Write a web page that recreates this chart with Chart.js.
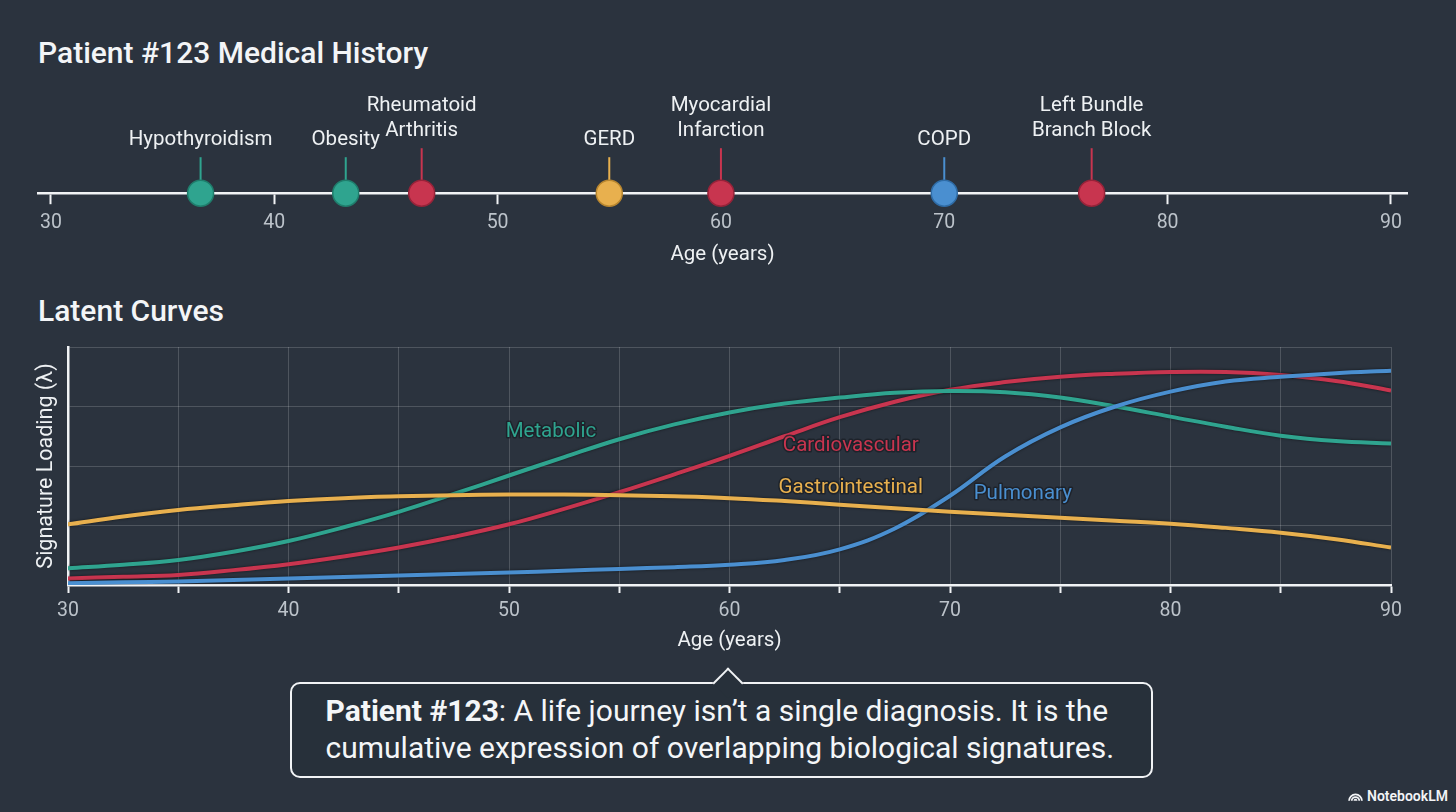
<!DOCTYPE html>
<html>
<head>
<meta charset="utf-8">
<script src="https://cdn.jsdelivr.net/npm/chart.js@4.4.1/dist/chart.umd.min.js"></script>
<style>
  body {
    margin: 0;
    width: 1456px;
    height: 812px;
    overflow: hidden;
    position: relative;
    background: #2b333e;
    font-family: Roboto, "Noto Sans", sans-serif;
    color: #f3f5f7;
  }
  .title {
    position: absolute;
    left: 38px;
    font-size: 30px;
    font-weight: 500;
    line-height: 34px;
  }
  #timelineBox { position: absolute; left: 0; top: 80px; width: 1456px; height: 200px; }
  #curvesBox { position: absolute; left: 0; top: 330px; width: 1456px; height: 330px; }
  .callout {
    position: absolute;
    left: 290px;
    top: 682px;
    width: 863px;
    height: 96px;
    box-sizing: border-box;
    border: 2.5px solid #f1f3f5;
    border-radius: 10px;
    background: #27303a;
    padding: 8px 0 0 33.5px;
    font-size: 30px;
    line-height: 37px;
    color: #f4f6f8;
    white-space: nowrap;
  }
  .callout .tip {
    position: absolute;
    left: 424.5px;
    top: -12.5px;
    width: 22px;
    height: 22px;
    background: #27303a;
    border-top: 2.5px solid #f1f3f5;
    border-left: 2.5px solid #f1f3f5;
    box-sizing: border-box;
    transform: rotate(45deg);
  }
  .watermark {
    position: absolute;
    right: 8px;
    bottom: 8px;
    font-size: 14px;
    font-weight: 600;
    color: #f2f4f6;
    display: flex;
    align-items: center;
    gap: 4px;
  }
</style>
</head>
<body>
<div class="title" style="top:36px">Patient #123 Medical History</div>
<div id="timelineBox"><canvas id="timeline"></canvas></div>
<div class="title" style="top:294px">Latent Curves</div>
<div id="curvesBox"><canvas id="curves"></canvas></div>
<div class="callout"><div class="tip"></div><b>Patient #123</b>: A life journey isn’t a single diagnosis. It is the<br>cumulative expression of overlapping biological signatures.</div>
<div class="watermark">
  <svg width="15" height="12" viewBox="0 0 14 11"><path d="M1 10 A6 6 0 0 1 13 10 M3.5 10 A3.5 3.5 0 0 1 10.5 10 M6 10 A1 1 0 0 1 8 10" fill="none" stroke="#f2f4f6" stroke-width="1.7"/></svg>
  NotebookLM
</div>
<script>
// timeline events
const eventNames = ["Hypothyroidism", "Obesity", "Rheumatoid\nArthritis", "GERD", "Myocardial\nInfarction", "COPD", "Left Bundle\nBranch Block"];
const eventAges = [36.7, 43.2, 46.6, 55.0, 60.0, 70.0, 76.6];
const eventSystems = ["metabolic", "metabolic", "cardiovascular", "gastrointestinal", "cardiovascular", "pulmonary", "cardiovascular"];
const ageTicks = [30, 40, 50, 60, 70, 80, 90];

// latent curves
const curveAges = [30, 32.5, 35, 37.5, 40, 42.5, 45, 47.5, 50, 52.5, 55, 57.5, 60, 62.5, 65, 67.5, 70, 72.5, 75, 77.5, 80, 82.5, 85, 87.5, 90];
const metabolic = [0.28, 0.34, 0.42, 0.56, 0.74, 0.97, 1.23, 1.53, 1.84, 2.15, 2.45, 2.7, 2.9, 3.05, 3.15, 3.23, 3.26, 3.24, 3.15, 3.0, 2.83, 2.66, 2.51, 2.42, 2.38];
const cardiovascular = [0.11, 0.14, 0.17, 0.25, 0.35, 0.48, 0.63, 0.81, 1.02, 1.28, 1.56, 1.86, 2.17, 2.5, 2.82, 3.08, 3.28, 3.41, 3.5, 3.55, 3.58, 3.58, 3.53, 3.43, 3.27];
const gastrointestinal = [1.02, 1.15, 1.26, 1.34, 1.41, 1.46, 1.49, 1.51, 1.52, 1.52, 1.51, 1.49, 1.46, 1.41, 1.35, 1.29, 1.23, 1.18, 1.13, 1.08, 1.03, 0.96, 0.88, 0.77, 0.63];
const pulmonary = [0.03, 0.045, 0.06, 0.085, 0.11, 0.135, 0.16, 0.185, 0.21, 0.24, 0.27, 0.3, 0.34, 0.42, 0.6, 0.95, 1.5, 2.16, 2.65, 3.0, 3.25, 3.42, 3.5, 3.56, 3.6];

const systemColors = {
  metabolic: "#2fa48f",
  cardiovascular: "#c8354f",
  gastrointestinal: "#e8b04e",
  pulmonary: "#4a8fd0"
};
const darker = {
  metabolic: "#1f7d6c",
  cardiovascular: "#962339",
  gastrointestinal: "#b8862f",
  pulmonary: "#2f6ca6"
};

Chart.defaults.font.family = "Roboto, 'Noto Sans', sans-serif";
Chart.defaults.color = "#bcc3ca";

const textColor = "#eef1f3";
const gridColor = "rgba(255,255,255,0.17)";

// stems + labels above the timeline markers
const eventLabels = {
  id: "eventLabels",
  beforeDatasetsDraw(chart) {
    const ctx = chart.ctx;
    const x = chart.scales.x, y = chart.scales.y;
    ctx.save();
    ctx.lineWidth = 2;
    eventAges.forEach((age, i) => {
      const lines = eventNames[i].split("\n");
      const stem = lines.length > 1 ? 45 : 36;
      const px = x.getPixelForValue(age), py = y.getPixelForValue(0);
      ctx.strokeStyle = systemColors[eventSystems[i]];
      ctx.beginPath();
      ctx.moveTo(px, py - stem);
      ctx.lineTo(px, py);
      ctx.stroke();
    });
    ctx.restore();
  },
  afterDatasetsDraw(chart) {
    const ctx = chart.ctx;
    const x = chart.scales.x, y = chart.scales.y;
    ctx.save();
    ctx.font = "20.5px Roboto, 'Noto Sans', sans-serif";
    ctx.fillStyle = textColor;
    ctx.textAlign = "center";
    ctx.textBaseline = "middle";
    eventAges.forEach((age, i) => {
      const lines = eventNames[i].split("\n");
      const stem = lines.length > 1 ? 45 : 36;
      const px = x.getPixelForValue(age), py = y.getPixelForValue(0);
      const lastY = py - stem - 17;
      lines.forEach((ln, k) => {
        ctx.fillText(ln, px, lastY - (lines.length - 1 - k) * 25);
      });
    });
    ctx.restore();
  }
};

new Chart(document.getElementById("timeline"), {
  type: "scatter",
  data: {
    datasets: [{
      data: eventAges.map((a) => ({ x: a, y: 0 })),
      pointRadius: 13,
      pointBackgroundColor: eventSystems.map((s) => systemColors[s]),
      pointBorderColor: eventSystems.map((s) => darker[s]),
      pointBorderWidth: 1.5,
      clip: false
    }]
  },
  options: {
    responsive: true,
    maintainAspectRatio: false,
    animation: false,
    events: [],
    layout: { padding: { left: 38, right: 49, top: 10, bottom: 8.7 } },
    plugins: { legend: { display: false }, tooltip: { enabled: false } },
    scales: {
      x: {
        type: "linear",
        min: 29.42,
        max: 90.72,
        afterBuildTicks: (s) => { s.ticks = ageTicks.map((v) => ({ value: v })); },
        border: { color: "#f1f3f5", width: 2.5 },
        grid: { drawOnChartArea: false, tickLength: 11, tickColor: "#f1f3f5", tickWidth: 2 },
        ticks: { padding: 9, font: { size: 19.5, lineHeight: 1.0 }, color: "#bcc3ca" },
        title: { display: true, text: "Age (years)", color: textColor, font: { size: 20.5 }, padding: { top: 1, bottom: 4 } }
      },
      y: { display: false, min: 0, max: 1 }
    }
  },
  plugins: [eventLabels]
});

// soft dark edge under each curve
const curveShadow = {
  id: "curveShadow",
  beforeDatasetDraw(chart) {
    const ctx = chart.ctx;
    ctx.save();
    ctx.shadowColor = "rgba(0,0,0,0.6)";
    ctx.shadowBlur = 3;
  },
  afterDatasetDraw(chart) {
    chart.ctx.restore();
  }
};

const curveLabels = {
  id: "curveLabels",
  afterDatasetsDraw(chart, args, opts) {
    const ctx = chart.ctx;
    const x = chart.scales.x, y = chart.scales.y;
    ctx.save();
    ctx.font = "20.5px Roboto, 'Noto Sans', sans-serif";
    ctx.textAlign = "center";
    ctx.textBaseline = "middle";
    ctx.lineJoin = "round";
    opts.spots.forEach((s) => {
      const px = x.getPixelForValue(s.age), py = y.getPixelForValue(s.value);
      ctx.strokeStyle = "rgba(25,30,36,0.75)";
      ctx.lineWidth = 3;
      ctx.strokeText(s.text, px, py);
      ctx.fillStyle = systemColors[s.system];
      ctx.fillText(s.text, px, py);
    });
    ctx.restore();
  }
};

function series(label, system, values) {
  return {
    label,
    data: curveAges.map((a, i) => ({ x: a, y: values[i] })),
    borderColor: systemColors[system],
    borderWidth: 4,
    pointRadius: 0,
    tension: 0.4,
    fill: false
  };
}

new Chart(document.getElementById("curves"), {
  type: "line",
  data: {
    datasets: [
      series("Gastrointestinal", "gastrointestinal", gastrointestinal),
      series("Pulmonary", "pulmonary", pulmonary),
      series("Metabolic", "metabolic", metabolic),
      series("Cardiovascular", "cardiovascular", cardiovascular)
    ]
  },
  options: {
    responsive: true,
    maintainAspectRatio: false,
    animation: false,
    events: [],
    layout: { padding: { left: 34, right: 65, top: 17, bottom: 4 } },
    plugins: {
      legend: { display: false },
      tooltip: { enabled: false },
      curveLabels: {
        spots: [
          { text: "Metabolic", system: "metabolic", age: 51.9, value: 2.58 },
          { text: "Cardiovascular", system: "cardiovascular", age: 65.5, value: 2.33 },
          { text: "Gastrointestinal", system: "gastrointestinal", age: 65.5, value: 1.63 },
          { text: "Pulmonary", system: "pulmonary", age: 73.3, value: 1.53 }
        ]
      }
    },
    scales: {
      x: {
        type: "linear",
        min: 30,
        max: 90,
        border: { color: "#f1f3f5", width: 2.5 },
        grid: { color: gridColor, tickLength: 8, tickColor: "#f1f3f5", tickWidth: 2 },
        ticks: {
          stepSize: 5,
          autoSkip: false,
          maxRotation: 0,
          padding: 6,
          font: { size: 19.5 },
          color: "#bcc3ca",
          callback: (v) => (v % 10 === 0 ? v : "")
        },
        title: { display: true, text: "Age (years)", color: textColor, font: { size: 20.5 }, padding: { top: 0, bottom: 3 } }
      },
      y: {
        min: 0,
        max: 4,
        afterFit: (s) => { s.width = 34; },
        border: { color: "#f1f3f5", width: 2.5 },
        grid: { color: gridColor, drawTicks: false },
        ticks: { display: false, stepSize: 1 },
        title: { display: true, text: "Signature Loading (λ)", color: textColor, font: { size: 21.5 }, padding: 0 }
      }
    }
  },
  plugins: [curveShadow, curveLabels]
});
</script>
</body>
</html>
